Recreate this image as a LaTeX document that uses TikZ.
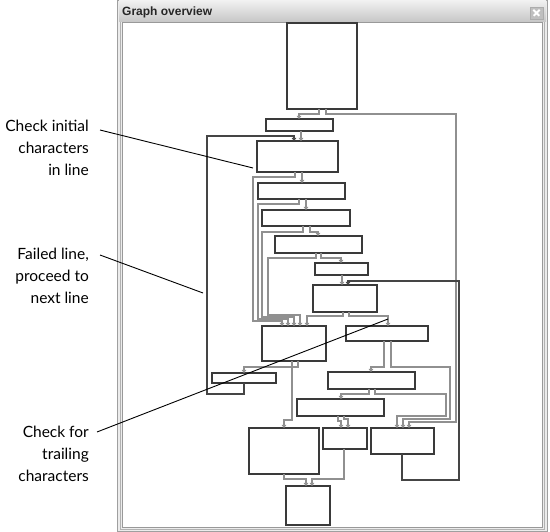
\documentclass[tikz,border=0pt]{standalone}
\usepackage{fontspec}
\setsansfont{Lato}
\newfontfamily\barfont{Liberation Sans}
\usetikzlibrary{arrows.meta}

\definecolor{boxc}{HTML}{3A3A3A}
\definecolor{linkc}{HTML}{909090}
\definecolor{loopc}{HTML}{454545}
\tikzset{
  blk/.style={draw=boxc, line width=1.1pt, fill=white, inner sep=0pt, outer sep=0pt, anchor=north west},
  link/.style={linkc, line width=1.1pt, -{Triangle[length=3pt,width=4.5pt]}},
  backlink/.style={loopc, line width=2pt, -{Triangle[length=3pt,width=4.5pt]}},
  callout/.style={black, line width=0.9pt},
  note/.style={font=\sffamily\fontsize{15.5}{22}\selectfont, align=right, anchor=east, inner sep=0pt}
}

\begin{document}
\begin{tikzpicture}[x=1pt, y=-1pt]
  \useasboundingbox (0,0) rectangle (550,532);

  % window frame
  \draw[gray!75, fill=gray!15] (117.5,0) rectangle (547.5,531);
  \shade[top color=gray!10, bottom color=gray!45] (119,0) rectangle (546,22);
  \node[font=\barfont\bfseries\fontsize{12}{14}\selectfont, anchor=west, inner sep=0pt, text=black!85] (title) at (122,12) {Graph overview};
  \node[draw=gray!65, fill=gray!50, minimum width=13pt, minimum height=12pt, inner sep=0pt] (close) at (536.5,13) {};
  \draw[white, line width=1.8pt] (close.north west) ++(3.5,3) -- ++(6,6)
                                 (close.north east) ++(-3.5,3) -- ++(-6,6);
  \draw[gray!80, fill=white] (122.5,22) rectangle (542.5,527.5);
  \draw[gray!60] (120.5,22) -- (120.5,529.5) -- (544.5,529.5) -- (544.5,22);

  % blocks
  \node[blk, minimum width=70pt, minimum height=86pt] (A) at (287,23) {};
  \node[blk, minimum width=67pt, minimum height=12pt] (B) at (266,119) {};
  \node[blk, minimum width=81pt, minimum height=31pt] (C) at (257,141) {};
  \node[blk, minimum width=87pt, minimum height=16pt] (D) at (258,183) {};
  \node[blk, minimum width=88pt, minimum height=16pt] (E) at (262,210) {};
  \node[blk, minimum width=87pt, minimum height=17pt] (F) at (275,236) {};
  \node[blk, minimum width=53pt, minimum height=12pt] (S) at (315,263) {};
  \node[blk, minimum width=64pt, minimum height=27pt] (H) at (313,285) {};
  \node[blk, minimum width=64pt, minimum height=35pt] (G) at (262,326) {};
  \node[blk, minimum width=82pt, minimum height=15pt] (J) at (346,326) {};
  \node[blk, minimum width=64pt, minimum height=10pt] (I) at (212,373) {};
  \node[blk, minimum width=87pt, minimum height=17pt] (K) at (328,372) {};
  \node[blk, minimum width=87pt, minimum height=17pt] (M) at (297,399) {};
  \node[blk, minimum width=70pt, minimum height=46pt] (L) at (249,428) {};
  \node[blk, minimum width=44pt, minimum height=21pt] (O) at (323,428) {};
  \node[blk, minimum width=63pt, minimum height=26pt] (N) at (371,428) {};
  \node[blk, minimum width=44pt, minimum height=39pt] (P) at (286,486) {};

  % edges
  \draw[link] (319,0 |- A.south) |- (299,114) -- (299,0 |- B.north);
  \draw[link] (326,0 |- A.south) |- (456,114) |- (409,422) -- (409,0 |- N.north);
  \draw[link] (301,0 |- B.south) -- (301,0 |- C.north);
  \draw[link] (302,0 |- C.south) -- (302,0 |- D.north);
  \draw[link] (295,0 |- C.south) |- (253,177) |- (282,321) -- (282,0 |- G.north);
  \draw[link] (306,0 |- D.south) -- (306,0 |- E.north);
  \draw[link] (299,0 |- D.south) |- (258,204) |- (288,319) -- (288,0 |- G.north);
  \draw[link] (310,0 |- E.south) |- (318,232) -- (318,0 |- F.north);
  \draw[link] (303,0 |- E.south) |- (262,232) |- (294,317) -- (294,0 |- G.north);
  \draw[link] (321,0 |- F.south) |- (341,258) -- (341,0 |- S.north);
  \draw[link] (316,0 |- F.south) |- (268,258) |- (300,315) -- (300,0 |- G.north);
  \draw[link] (342,0 |- S.south) -- (342,0 |- H.north);
  \draw[link] (343,0 |- H.south) |- (307,316) -- (307,0 |- G.north);
  \draw[link] (349,0 |- H.south) |- (388,316) -- (388,0 |- J.north);
  \draw[link] (298,0 |- G.south) |- (244,367) -- (244,0 |- I.north);
  \draw[link] (292,0 |- G.south) |- (284,420) -- (284,0 |- L.north);
  \draw[link] (384,0 |- J.south) |- (371,367) -- (371,0 |- K.north);
  \draw[link] (391,0 |- J.south) |- (450,367) |- (403,419) -- (403,0 |- N.north);
  \draw[link] (369,0 |- K.south) |- (341,394) -- (341,0 |- M.north);
  \draw[link] (375,0 |- K.south) |- (446,394) |- (397,416) -- (397,0 |- N.north);
  \draw[link] (338,0 |- M.south) |- (341,421) -- (341,0 |- O.north);
  \draw[link] (344,0 |- M.south) |- (348,419) -- (348,0 |- O.north);
  \draw[link] (284,0 |- L.south) |- (306,479) -- (306,0 |- P.north);
  \draw[link] (344,0 |- O.south) |- (312,479) -- (312,0 |- P.north);

  % back edges
  \draw[backlink] (244,0 |- I.south) |- (207,394) |- (294,136) -- (294,0 |- C.north);
  \draw[backlink] (402,0 |- N.south) |- (459,480) |- (348,281) -- (348,0 |- H.north);

  % notes
  \node[note] (initial) at (89,148) {Check initial\\characters\\in line};
  \node[note] (failed) at (89,276) {Failed line,\\proceed to\\next line};
  \node[note] (trailing) at (89,454) {Check for\\trailing\\characters};
  \coordinate (initialFrom) at (100,130);
  \coordinate (initialTo) at (253,168);
  \coordinate (failedFrom) at (100,255);
  \coordinate (failedTo) at (203,293);
  \coordinate (trailingFrom) at (97,432);
  \coordinate (trailingTo) at (388,319);
  \draw[callout] (initialFrom) -- (initialTo);
  \draw[callout] (failedFrom) -- (failedTo);
  \draw[callout] (trailingFrom) -- (trailingTo);
\end{tikzpicture}
\end{document}
